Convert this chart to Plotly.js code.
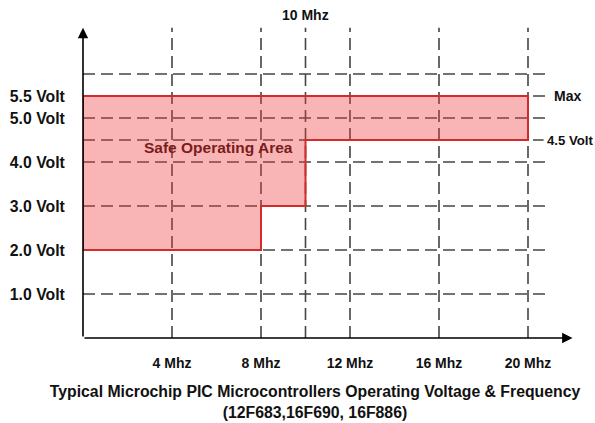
<!DOCTYPE html>
<html>
<head>
<meta charset="utf-8">
<script src="https://cdn.plot.ly/plotly-3.0.1.min.js"></script>
<style>html,body{margin:0;padding:0;background:#fff;}#chart{width:595px;height:423px;}</style>
</head>
<body>
<div id="chart"></div>
<script>
// ---- data ----
const freqBreaks = [0, 8, 10, 20];          // Mhz boundaries of the steps
const minVoltage = [2.0, 3.0, 4.5];         // minimum voltage per frequency step
const maxVoltage = 5.5;                     // maximum voltage
const xTickVals = [4, 8, 12, 16, 20];
const xTickText = ['4 Mhz', '8 Mhz', '12 Mhz', '16 Mhz', '20 Mhz'];
const topTickVal = 10;
const topTickText = '10 Mhz';
const yTickVals = [1, 2, 3, 4, 5, 5.5];
const yTickText = ['1.0 Volt', '2.0 Volt', '3.0 Volt', '4.0 Volt', '5.0 Volt', '5.5 Volt'];
const gridFreq = [4, 8, 10, 12, 16, 20];
const gridVolt = [1, 2, 3, 4, 5, 6];
const areaLabel = 'Safe Operating Area';
const maxLabel = 'Max';
const minLabel = '4.5 Volt';
const titleLines = ['Typical Microchip PIC Microcontrollers Operating Voltage & Frequency', '(12F683,16F690, 16F886)'];

// ---- polygon of the safe area ----
const px = [], py = [];
for (let i = 0; i < minVoltage.length; i++) {
  px.push(freqBreaks[i], freqBreaks[i + 1]);
  py.push(minVoltage[i], minVoltage[i]);
}
const fMax = freqBreaks[freqBreaks.length - 1];
px.push(fMax, freqBreaks[0], freqBreaks[0]);
py.push(maxVoltage, maxVoltage, minVoltage[0]);

const FONT = 'Liberation Sans, Arial, sans-serif';
const gridLine = {color: '#444', width: 1.6, dash: '12px,6px'};
const xEnd = 21, xArrow = 22, yTop = 7.05;

const shapes = [];
gridFreq.forEach(f => shapes.push({type: 'line', xref: 'x', yref: 'y', x0: f, x1: f, y0: 0, y1: yTop, line: gridLine, layer: 'below'}));
gridVolt.forEach(v => shapes.push({type: 'line', xref: 'x', yref: 'y', x0: 0, x1: xEnd, y0: v, y1: v, line: gridLine, layer: 'below'}));
shapes.push({type: 'line', xref: 'x', yref: 'y', x0: 0, x1: 20.7, y0: minVoltage[2], y1: minVoltage[2], line: gridLine, layer: 'below'});
shapes.push({type: 'line', xref: 'x', yref: 'y', x0: 0, x1: xEnd, y0: maxVoltage, y1: maxVoltage, line: gridLine, layer: 'below'});

const traces = [
  {x: px, y: py, type: 'scatter', mode: 'lines', fill: 'toself', fillcolor: 'rgba(240,60,60,0.38)', line: {width: 0}, hoverinfo: 'skip', showlegend: false},
  {x: px, y: py, type: 'scatter', mode: 'lines', line: {color: '#d42a2a', width: 2}, hoverinfo: 'skip', showlegend: false}
];

const annotations = [
  {xref: 'x', yref: 'y', x: xArrow, y: 0, axref: 'x', ayref: 'y', ax: 0, ay: 0, text: '', showarrow: true, arrowhead: 2, arrowsize: 1.3, arrowwidth: 1.6, arrowcolor: '#000', standoff: 0},
  {xref: 'x', yref: 'y', x: 0, y: yTop, axref: 'x', ayref: 'y', ax: 0, ay: 0, text: '', showarrow: true, arrowhead: 2, arrowsize: 1.3, arrowwidth: 1.6, arrowcolor: '#000', standoff: 0},
  {xref: 'x', yref: 'paper', x: topTickVal, y: 1.035, text: topTickText, showarrow: false, xanchor: 'center', yanchor: 'middle', font: {family: FONT, size: 14, color: '#111', weight: 'bold'}},
  {xref: 'x', yref: 'y', x: 6.07, y: 4.34, text: areaLabel, showarrow: false, xanchor: 'center', yanchor: 'middle', font: {family: FONT, size: 15.5, color: '#7a1c1c', weight: 'bold'}},
  {xref: 'x', yref: 'y', x: 21.08, y: maxVoltage, text: maxLabel, showarrow: false, xanchor: 'left', yanchor: 'middle', font: {family: FONT, size: 14, color: '#111', weight: 'bold'}},
  {xref: 'x', yref: 'y', x: 20.78, y: minVoltage[2], text: minLabel, showarrow: false, xanchor: 'left', yanchor: 'middle', font: {family: FONT, size: 13.2, color: '#111', weight: 'bold'}}
];

const layout = {
  width: 595, height: 423,
  margin: {l: 83, r: 12, t: 26, b: 85},
  paper_bgcolor: '#fff', plot_bgcolor: '#fff',
  showlegend: false,
  xaxis: {range: [0, 500 / 22.25], showgrid: false, zeroline: false, showline: false,
          tickvals: xTickVals, ticktext: xTickText, ticks: 'outside', ticklen: 0, ticklabelstandoff: 12,
          tickfont: {family: FONT, size: 14, color: '#111', weight: 'bold'}, fixedrange: true},
  yaxis: {range: [0, 312 / 44], showgrid: false, zeroline: false, showline: false,
          tickvals: yTickVals, ticktext: yTickText, ticks: 'outside', ticklen: 0, ticklabelstandoff: 14,
          tickfont: {family: FONT, size: 15.8, color: '#111', weight: 'bold'}, fixedrange: true},
  title: {text: titleLines.join('<br>'), x: 315 / 595, xref: 'container', xanchor: 'center',
          y: (423 - 397) / 423, yref: 'container', yanchor: 'middle',
          font: {family: FONT, size: 15.8, color: '#111', weight: 'bold'}},
  shapes: shapes,
  annotations: annotations
};

Plotly.newPlot('chart', traces, layout, {displayModeBar: false, staticPlot: true});
</script>
</body>
</html>
